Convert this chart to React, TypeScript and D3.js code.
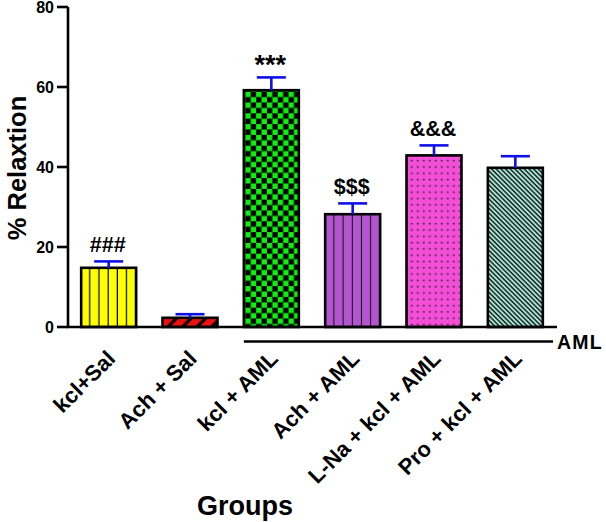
import React from "react";
import * as d3 from "d3";

const categories = ["kcl+Sal", "Ach + Sal", "kcl + AML", "Ach + AML", "L-Na + kcl + AML", "Pro + kcl + AML"];
const means = [14.8, 2.3, 59.2, 28.2, 42.9, 39.8];
const sems = [1.6, 0.9, 3.2, 2.7, 2.5, 2.9];
const annotations = ["###", "", "***", "$$$", "&&&", ""];
const yTicks = [0, 20, 40, 60, 80];
const groupLabel = "AML";

const W = 606;
const H = 522;
const FONT = "'Liberation Sans', Arial, Helvetica, sans-serif";

export default function App() {
  const x = d3.scaleBand<string>().domain(categories).range([68, 556]).paddingInner(0.324).paddingOuter(0.162);
  const y = d3.scaleLinear().domain([0, 80]).range([327, 7]);
  const bw = x.bandwidth();
  const y0 = y(0);

  const patternFor = (i: number, bx: number) => {
    const id = `pat${i}`;
    switch (i) {
      case 0:
        return (
          <pattern key={id} id={id} patternUnits="userSpaceOnUse" x={bx} y={0} width={9.2} height={10}>
            <rect width={9.2} height={10} fill="#ffff00" />
            <line x1={9.2} x2={9.2} y1={0} y2={10} stroke="#000" strokeWidth={2.4} />
          </pattern>
        );
      case 1:
        return (
          <pattern key={id} id={id} patternUnits="userSpaceOnUse" x={bx} y={y0} width={10.3} height={10} patternTransform="rotate(45)">
            <rect width={10.3} height={10} fill="#ee1111" />
            <line x1={2} x2={2} y1={0} y2={10} stroke="#000" strokeWidth={3.2} />
          </pattern>
        );
      case 2:
        return (
          <pattern key={id} id={id} patternUnits="userSpaceOnUse" x={bx + 1.5} y={y(means[2]) + 1.5} width={10.8} height={10.8}>
            <rect width={10.8} height={10.8} fill="#000" />
            <rect x={0} y={0} width={5.4} height={5.4} fill="#11ee11" />
            <rect x={5.4} y={5.4} width={5.4} height={5.4} fill="#11ee11" />
          </pattern>
        );
      case 3:
        return (
          <pattern key={id} id={id} patternUnits="userSpaceOnUse" x={bx} y={0} width={9.2} height={10}>
            <rect width={9.2} height={10} fill="#b455d0" />
            <line x1={9.2} x2={9.2} y1={0} y2={10} stroke="#111" strokeWidth={2} />
          </pattern>
        );
      case 4:
        return (
          <pattern key={id} id={id} patternUnits="userSpaceOnUse" x={bx + 2} y={y(means[4]) + 2} width={6} height={6.3}>
            <rect width={6} height={6.3} fill="#f24ed6" />
            <rect x={2.5} y={2.5} width={1.6} height={1.6} fill="#3a1a40" />
          </pattern>
        );
      default:
        return (
          <pattern key={id} id={id} patternUnits="userSpaceOnUse" x={bx} y={0} width={3.3} height={10} patternTransform="rotate(-45)">
            <rect width={3.3} height={10} fill="#aaecd8" />
            <line x1={1} x2={1} y1={0} y2={10} stroke="#111" strokeWidth={1.4} />
          </pattern>
        );
    }
  };

  return (
    <svg width={W} height={H} style={{ position: "absolute", left: 0, top: 0, background: "#fff" }} fontFamily={FONT}>
      <defs>{categories.map((c, i) => patternFor(i, x(c) as number))}</defs>

      {/* bars */}
      {categories.map((c, i) => {
        const bx = x(c) as number;
        const top = y(means[i]);
        return (
          <rect key={c} x={bx} y={top} width={bw} height={y0 - top} fill={`url(#pat${i})`} stroke="#000" strokeWidth={2.6} />
        );
      })}

      {/* error bars */}
      {categories.map((c, i) => {
        const cx = (x(c) as number) + bw / 2;
        const top = y(means[i]);
        const cap = y(means[i] + sems[i]);
        return (
          <g key={`e${c}`} stroke="#1010e6" strokeWidth={2.6}>
            <line x1={cx} x2={cx} y1={top} y2={cap} />
            <line x1={cx - 14.5} x2={cx + 14.5} y1={cap} y2={cap} />
          </g>
        );
      })}

      {/* annotations */}
      {categories.map((c, i) => {
        if (!annotations[i]) return null;
        const cx = (x(c) as number) + bw / 2;
        const cap = y(means[i] + sems[i]);
        const isStar = annotations[i] === "***";
        return (
          <text key={`a${c}`} x={cx - 1} y={isStar ? cap - 3 : cap - 9.5} textAnchor="middle" fontWeight="bold" fontSize={isStar ? 27 : 21.5} fill="#000">
            {annotations[i]}
          </text>
        );
      })}

      {/* y axis */}
      <line x1={68} x2={68} y1={y(80)} y2={y0} stroke="#000" strokeWidth={2.6} />
      {yTicks.map((t) => (
        <g key={t}>
          <line x1={57} x2={68} y1={y(t)} y2={y(t)} stroke="#000" strokeWidth={2.6} />
          <text x={54} y={y(t)} dy="0.4em" textAnchor="end" fontWeight="bold" fontSize={16}>
            {t}
          </text>
        </g>
      ))}
      {/* x axis */}
      <line x1={67} x2={557} y1={y0} y2={y0} stroke="#000" strokeWidth={2.6} />

      {/* AML group line */}
      <line x1={x(categories[2]) as number} x2={553} y1={341.5} y2={341.5} stroke="#000" strokeWidth={2.6} />
      <text x={557} y={349} fontWeight="bold" fontSize={19.5} letterSpacing={1.2}>
        {groupLabel}
      </text>

      {/* x labels */}
      {categories.map((c) => {
        const cx = (x(c) as number) + bw / 2;
        return (
          <text key={`l${c}`} transform={`translate(${cx + 8},360) rotate(-45)`} textAnchor="end" fontWeight="bold" fontSize={22}>
            {c}
          </text>
        );
      })}

      {/* axis titles */}
      <text transform="translate(26,168) rotate(-90)" textAnchor="middle" fontWeight="bold" fontSize={25.5}>
        % Relaxtion
      </text>
      <text x={245} y={515} textAnchor="middle" fontWeight="bold" fontSize={27}>
        Groups
      </text>
    </svg>
  );
}
